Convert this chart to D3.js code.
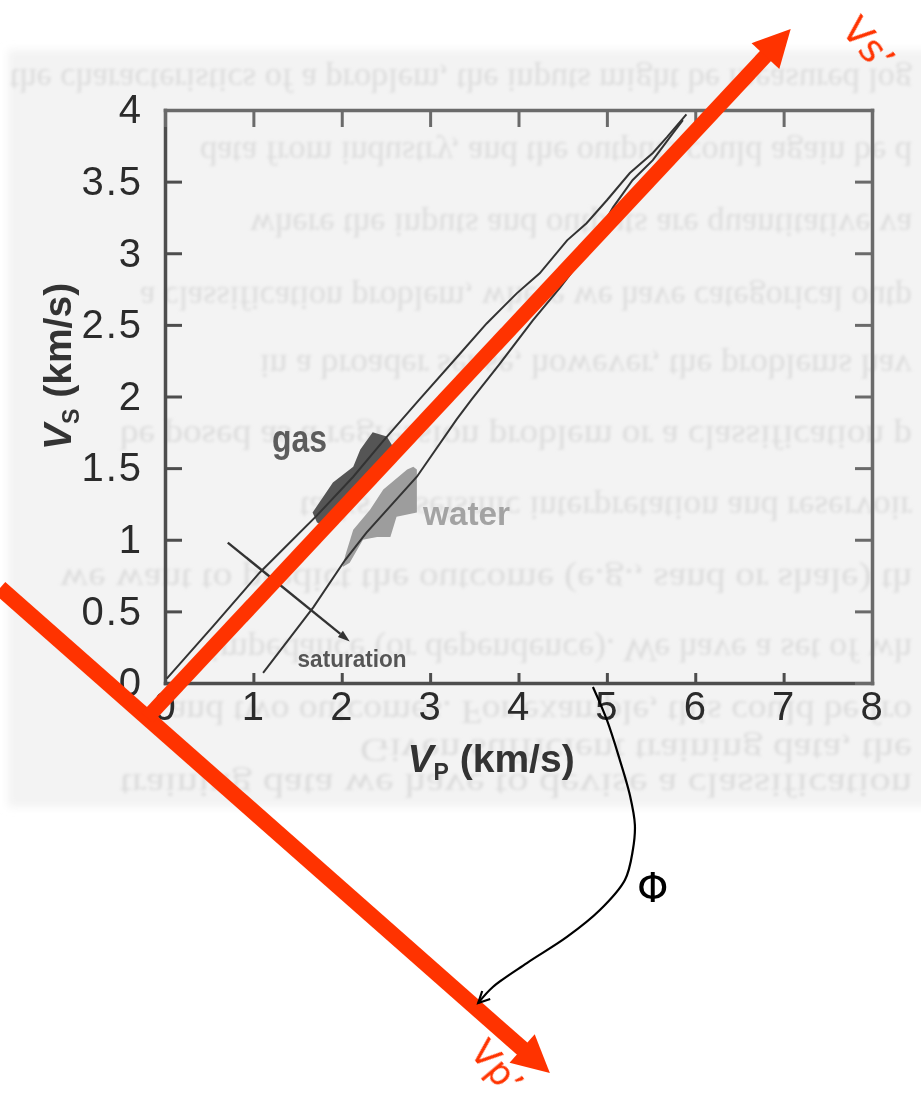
<!DOCTYPE html>
<html>
<head>
<meta charset="utf-8">
<script src="https://cdn.jsdelivr.net/npm/d3@7/dist/d3.min.js"></script>
<style>
  body { margin: 0; background: #fff; }
  svg { display: block; }
  .tick text { font-family: "Liberation Sans Narrow", "Liberation Sans", Arial, sans-serif; font-size: 40px; letter-spacing: 2px; fill: #2b2b2b; }
</style>
</head>
<body>
<div id="chart"></div>
<script>
// ticks on the two axes
const vpTicks = [0, 1, 2, 3, 4, 5, 6, 7, 8];
const vsTicks = [0, 0.5, 1, 1.5, 2, 2.5, 3, 3.5, 4];

// upper trend line (gas side)
const gasLineVp = [0.02, 0.55, 1.07, 1.72, 2.13, 2.47, 2.88, 3.34, 3.64, 3.98, 4.24, 4.55, 4.77, 5.00, 5.26, 5.52, 5.68, 5.90];
const gasLineVs = [0.03, 0.40, 0.77, 1.17, 1.44, 1.69, 1.98, 2.30, 2.51, 2.72, 2.86, 3.09, 3.21, 3.37, 3.56, 3.70, 3.81, 3.97];

// lower trend line (water side)
const waterLineVp = [1.11, 1.68, 2.04, 2.28, 2.85, 3.30, 3.47, 3.79, 4.16, 4.47, 4.77, 5.07, 5.29, 5.52, 5.75, 5.86];
const waterLineVs = [0.07, 0.53, 0.86, 1.05, 1.44, 1.84, 1.98, 2.23, 2.53, 2.76, 3.00, 3.32, 3.51, 3.65, 3.84, 3.93];

// outline of the gas cloud
const gasCloudVp = [1.67, 1.90, 2.13, 2.21, 2.35, 2.51, 2.58, 2.47, 2.21, 2.01, 1.83, 1.72];
const gasCloudVs = [1.19, 1.40, 1.51, 1.63, 1.75, 1.72, 1.65, 1.51, 1.35, 1.21, 1.09, 1.12];

// outline of the water cloud
const waterCloudVp = [2.13, 2.32, 2.47, 2.74, 2.81, 2.85, 2.85, 2.62, 2.55, 2.40, 2.24, 2.09, 2.01, 2.04];
const waterCloudVs = [1.07, 1.21, 1.35, 1.49, 1.51, 1.49, 1.19, 1.16, 1.02, 1.02, 1.00, 0.84, 0.81, 0.89];

// saturation arrow (start, end)
const satVp = [0.71, 2.09];
const satVs = [0.98, 0.29];

// rotated axes drawn over the plot, in Vp/Vs units
const rotOrigin = [-0.204, -0.244];
const vsPrimeTip = [7.08, 4.565];
const vpPrimeTail = [-1.867, 0.663];
const vpPrimeTip = [4.355, -2.723];

// curved phi arrow
const phiVp = [4.842, 5.000, 5.147, 5.260, 5.317, 5.294, 5.204, 4.921, 4.548, 4.095, 3.710, 3.544];
const phiVs = [-0.028, -0.258, -0.538, -0.782, -0.991, -1.166, -1.375, -1.585, -1.773, -1.955, -2.122, -2.234];

// faint text of the scanned page behind the figure
const pageText = [
  "the characteristics of a problem, the inputs might be measured log",
  "data from industry, and the outputs could again be d",
  "where the inputs and outputs are quantitative va",
  "a classification problem, where we have categorical outp",
  "in a broader sense, however, the problems hav",
  "be posed as a regression problem or a classification p",
  "tasks in seismic interpretation and reservoir",
  "we want to predict the outcome (e.g., sand or shale) th",
  "impedance (or dependence). We have a set of  wh",
  "and two outcomes. For example, this could be fro",
  "Given sufficient training data, the",
  "training data we have to devise a classification"
];
const pageTextY = [80, 153, 225, 298, 366, 437, 508, 580, 650, 712, 750, 785];
const pageTextX = [10, 200, 250, 140, 260, 120, 300, 60, 210, 170, 360, 120];

const W = 921, H = 1109;
const margin = {top: 110, right: 49, bottom: 426, left: 165};
const width = W - margin.left - margin.right;
const height = H - margin.top - margin.bottom;

const svg = d3.select("#chart").append("svg")
  .attr("width", W)
  .attr("height", H);

const defs = svg.append("defs");
defs.append("filter").attr("id", "soft")
  .append("feGaussianBlur").attr("stdDeviation", 1.6);
defs.append("filter").attr("id", "edge").attr("x", "-5%").attr("y", "-5%").attr("width", "110%").attr("height", "110%")
  .append("feGaussianBlur").attr("stdDeviation", 4);

// scanned page background
svg.append("rect")
  .attr("x", 8).attr("y", 50).attr("width", 940).attr("height", 757)
  .attr("fill", "#f3f3f3")
  .attr("filter", "url(#edge)");

const bg = svg.append("g").attr("filter", "url(#soft)");
pageText.forEach((t, i) => {
  const x0 = pageTextX[i];
  bg.append("text")
    .attr("transform", `translate(0,${pageTextY[i]}) scale(1,-1)`)
    .attr("x", x0)
    .attr("y", 11)
    .attr("textLength", 912 - x0)
    .attr("lengthAdjust", "spacingAndGlyphs")
    .style("font-family", "'Liberation Serif', serif")
    .style("font-size", "33px")
    .attr("fill", "#dcdcdc")
    .text(t);
});

const g = svg.append("g")
  .attr("transform", `translate(${margin.left},${margin.top})`);

const x = d3.scaleLinear().domain([0, 8]).range([0, width]);
const y = d3.scaleLinear().domain([0, 4]).range([height, 0]);

// frame with inward ticks
const styleAxis = (sel, col) => {
  sel.select(".domain").attr("stroke", col).attr("stroke-width", 3.5).attr("stroke-linecap", "square");
  sel.selectAll(".tick line").attr("stroke", col).attr("stroke-width", 3);
};

g.append("g")
  .attr("transform", `translate(0,${height})`)
  .call(d3.axisBottom(x).tickValues(vpTicks).tickSize(-10).tickSizeOuter(0).tickPadding(9).tickFormat(d3.format("d")))
  .call(styleAxis, "#4d4d4d");

g.append("g")
  .call(d3.axisLeft(y).tickValues(vsTicks).tickSize(-17).tickSizeOuter(0).tickPadding(22).tickFormat(d => d))
  .call(styleAxis, "#4d4d4d");

g.append("g")
  .call(d3.axisTop(x).tickValues(vpTicks).tickSize(-17).tickSizeOuter(0).tickFormat(""))
  .call(styleAxis, "#6a6a6a");

g.append("g")
  .attr("transform", `translate(${width},0)`)
  .call(d3.axisRight(y).tickValues(vsTicks).tickSize(-17).tickSizeOuter(0).tickFormat(""))
  .call(styleAxis, "#6a6a6a");

// axis titles
const titleFont = sel => sel
  .attr("text-anchor", "middle")
  .style("font-family", "'Liberation Sans Narrow', 'Liberation Sans', Arial, sans-serif")
  .style("font-size", "39px")
  .style("font-weight", "bold")
  .attr("fill", "#333");

const yTitle = g.append("text")
  .attr("transform", `translate(${-94},${y(2.21)}) rotate(-90)`)
  .call(titleFont);
yTitle.append("tspan").style("font-style", "italic").text("V");
yTitle.append("tspan").attr("dy", 8).style("font-size", "23px").text("S");
yTitle.append("tspan").attr("dy", -8).text(" (km/s)");

const xTitle = g.append("text")
  .attr("x", x(3.69))
  .attr("y", height + 89)
  .call(titleFont);
xTitle.append("tspan").style("font-style", "italic").text("V");
xTitle.append("tspan").attr("dy", 8).style("font-size", "23px").text("P");
xTitle.append("tspan").attr("dy", -8).text(" (km/s)");

// clouds
const toPts = (vp, vs) => vp.map((v, i) => [x(v), y(vs[i])]);
g.append("path")
  .attr("d", d3.line()(toPts(waterCloudVp, waterCloudVs)) + "Z")
  .attr("fill", "#9d9d9d");
g.append("path")
  .attr("d", d3.line()(toPts(gasCloudVp, gasCloudVs)) + "Z")
  .attr("fill", "#555");

// trend lines
const line = d3.line();
g.append("path").attr("d", line(toPts(gasLineVp, gasLineVs)))
  .attr("fill", "none").attr("stroke", "#333").attr("stroke-width", 2);
g.append("path").attr("d", line(toPts(waterLineVp, waterLineVs)))
  .attr("fill", "none").attr("stroke", "#333").attr("stroke-width", 2);

// saturation arrow
const s0 = [x(satVp[0]), y(satVs[0])], s1 = [x(satVp[1]), y(satVs[1])];
{
  const dx = s1[0] - s0[0], dy = s1[1] - s0[1], L = Math.hypot(dx, dy);
  const ux = dx / L, uy = dy / L;
  const bx = s1[0] - ux * 12, by = s1[1] - uy * 12;
  g.append("line").attr("x1", s0[0]).attr("y1", s0[1]).attr("x2", bx).attr("y2", by)
    .attr("stroke", "#333").attr("stroke-width", 2.4);
  g.append("path")
    .attr("d", `M${s1[0]},${s1[1]}L${bx - uy * 4},${by + ux * 4}L${bx + uy * 4},${by - ux * 4}Z`)
    .attr("fill", "#333");
}

// labels inside the plot
g.append("text").attr("x", x(1.21)).attr("y", y(1.61))
  .style("font-family", "'Liberation Sans Narrow', 'Liberation Sans', sans-serif")
  .style("font-size", "38px").style("font-weight", "bold")
  .attr("fill", "#5c5c5c").attr("textLength", 55).attr("lengthAdjust", "spacingAndGlyphs")
  .text("gas");
g.append("text").attr("x", x(2.92)).attr("y", y(1.10))
  .style("font-family", "'Liberation Sans Narrow', 'Liberation Sans', sans-serif")
  .style("font-size", "34px").style("font-weight", "bold")
  .attr("fill", "#a3a3a3").attr("textLength", 87).attr("lengthAdjust", "spacingAndGlyphs")
  .text("water");
g.append("text").attr("x", x(1.50)).attr("y", y(0.11))
  .style("font-family", "'Liberation Sans Narrow', 'Liberation Sans', sans-serif")
  .style("font-size", "23px").style("font-weight", "bold")
  .attr("fill", "#555").attr("textLength", 109).attr("lengthAdjust", "spacingAndGlyphs")
  .text("saturation");

// red rotated axes
const red = "#ff3300";
function redArrow(p0, p1, w, headLen, headW) {
  const dx = p1[0] - p0[0], dy = p1[1] - p0[1], L = Math.hypot(dx, dy);
  const ux = dx / L, uy = dy / L;
  const bx = p1[0] - ux * headLen, by = p1[1] - uy * headLen;
  g.append("line").attr("x1", p0[0]).attr("y1", p0[1]).attr("x2", bx + ux * 3).attr("y2", by + uy * 3)
    .attr("stroke", red).attr("stroke-width", w);
  g.append("path")
    .attr("d", `M${p1[0]},${p1[1]}L${bx - uy * headW / 2},${by + ux * headW / 2}L${bx + uy * headW / 2},${by - ux * headW / 2}Z`)
    .attr("fill", red);
}
const pt = d => [x(d[0]), y(d[1])];
redArrow(pt(vpPrimeTail), pt(vpPrimeTip), 16, 37, 38);
redArrow(pt(rotOrigin), pt(vsPrimeTip), 15, 37, 38);

const redLabel = (vp, vs, txt, size) => g.append("text")
  .attr("transform", `translate(${x(vp)},${y(vs)}) rotate(50)`)
  .attr("text-anchor", "middle").attr("dominant-baseline", "central")
  .style("font-family", "'DejaVu Sans', sans-serif").style("font-size", size + "px")
  .attr("fill", red).text(txt);
redLabel(7.96, 4.46, "Vs\u2019", 38);
redLabel(3.76, -2.68, "Vp\u2019", 36);

// phi arc
const phiPts = toPts(phiVp, phiVs);
g.append("path")
  .attr("d", d3.line().curve(d3.curveCatmullRom)(phiPts))
  .attr("fill", "none").attr("stroke", "#000").attr("stroke-width", 2.2);
{
  const tip = phiPts[phiPts.length - 1];
  g.append("path")
    .attr("d", `M${tip[0] + 4},${tip[1] - 12}L${tip[0]},${tip[1]}L${tip[0] + 12},${tip[1] - 4}`)
    .attr("fill", "none").attr("stroke", "#000").attr("stroke-width", 2.2);
}
g.append("text")
  .attr("x", x(5.52)).attr("y", y(-1.43))
  .attr("text-anchor", "middle").attr("dominant-baseline", "central")
  .style("font-family", "'DejaVu Sans', sans-serif").style("font-size", "40px")
  .attr("fill", "#000").text("\u03A6");
</script>
</body>
</html>
